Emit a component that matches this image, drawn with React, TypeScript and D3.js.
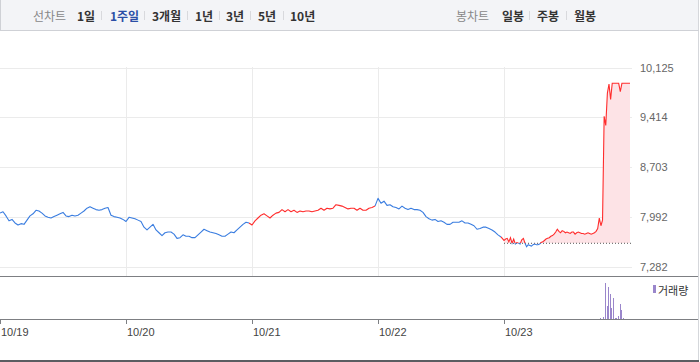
import React from "react";
import * as d3 from "d3";

// ---- data ----
const dates = ["10/19", "10/20", "10/21", "10/22", "10/23"];
const yTickValues = [10125, 9414, 8703, 7992, 7282];
const yTickLabels = ["10,125", "9,414", "8,703", "7,992", "7,282"];
const closeBefore = 8050; // close of the session before 10/19
const prevClose = 7620; // reference price of the last session

const day1 = [8050, 8070, 8010, 7940, 7960, 7910, 7880, 7900, 7890, 7950, 8010, 8040, 8090, 8080,
  8050, 8010, 7990, 7980, 8000, 8020, 8040, 8060, 8010, 8000, 8020, 8010, 8020, 8050,
  8080, 8120, 8140, 8120, 8100, 8090, 8100, 8120, 8130, 8020, 8000, 7990, 7980, 7960];
const day2 = [7930, 7990, 7980, 7970, 7950, 7930, 7850, 7810, 7850, 7890, 7810, 7770, 7730, 7770,
  7780, 7780, 7750, 7690, 7700, 7740, 7720, 7720, 7700, 7700, 7740, 7780, 7820, 7800,
  7780, 7770, 7760, 7740, 7720, 7720, 7750, 7780, 7770, 7810, 7850, 7890, 7920, 7910];
const day3 = [7880, 7940, 7980, 8020, 8040, 8010, 7980, 8020, 8050, 8060, 8100, 8070, 8100, 8070,
  8090, 8060, 8080, 8070, 8080, 8080, 8070, 8080, 8090, 8120, 8090, 8120, 8110, 8120,
  8170, 8160, 8150, 8130, 8110, 8120, 8120, 8090, 8120, 8090, 8090, 8120, 8130, 8150];
const day4 = [8260, 8190, 8220, 8160, 8170, 8140, 8130, 8110, 8150, 8120, 8100, 8120, 8100, 8100,
  8090, 8060, 8000, 7970, 7950, 7960, 7930, 7940, 7920, 7890, 7890, 7920, 7920, 7920,
  7940, 7910, 7910, 7890, 7870, 7820, 7830, 7850, 7850, 7830, 7810, 7780, 7740, 7710];
const day5 = [7660, 7680, 7690, 7640, 7700, 7620, 7680, 7610, 7630, 7620, 7610, 7670, 7690, 7620,
  7570, 7600, 7590, 7580, 7600, 7610, 7600, 7600, 7610, 7630, 7640, 7660, 7680, 7690,
  7700, 7720, 7730, 7750, 7780, 7820, 7790, 7770, 7800, 7790, 7770, 7780, 7770, 7760,
  7780, 7780, 7750, 7770, 7780, 7770, 7760, 7760, 7750, 7760, 7770, 7760, 7750, 7760,
  7770, 7790, 7830, 7980, 7870, 7950, 9430, 9300, 9760, 9890, 9670, 9900, 9900, 9900,
  9900, 9900, 9780, 9900, 9900, 9900, 9900, 9900, 9900];

// volume of the last session: minutes after the open, volume (thousand shares)
const volMinutes = [297, 306, 314, 319, 322, 328, 331, 337, 344, 347, 353, 359, 362, 368];
const volValues = [30, 60, 1150, 420, 1020, 790, 350, 670, 30, 30, 100, 470, 280, 30];
const volLegend = "거래량";

const lineLabel = "선차트";
const lineTypes = ["1일", "1주일", "3개월", "1년", "3년", "5년", "10년"];
const candleLabel = "봉차트";
const candleTypes = ["일봉", "주봉", "월봉"];

const RED = "#ff2d2d";
const BLUE = "#3a7de0";

export default function App() {
  const W = 700, H = 362;
  const plotRight = 632;
  const x = d3.scaleLinear().domain([0, 5]).range([0, 630]);
  const y = d3.scaleLinear().domain([7282, 10125]).range([267, 67.5]);
  const vy = d3.scaleLinear().domain([0, 1330]).range([319, 277]);

  const line = d3.line<[number, number]>().x(d => x(d[0])).y(d => y(d[1]));
  const days = [day1, day2, day3, day4];
  const dayPaths = days.map((arr, d) => {
    const pts: [number, number][] = arr.map((v, j) => [d + j / arr.length, v]);
    if (d > 0) {
      const p = days[d - 1];
      pts.unshift([d - 1 / p.length, p[p.length - 1]]);
    }
    const prev = d === 0 ? closeBefore : days[d - 1][days[d - 1].length - 1];
    const close = arr[arr.length - 1];
    return { path: line(pts) || "", color: close > prev ? RED : BLUE };
  });
  const pts5: [number, number][] = day5.map((v, i) => [4 + i / 78, v]);
  const linePts5: [number, number][] = [[4 - 1 / day4.length, day4[day4.length - 1]], ...pts5];
  const path5 = line(linePts5) || "";
  const area5 = d3.area<[number, number]>().x(d => x(d[0])).y0(y(prevClose)).y1(d => y(d[1]))(pts5) || "";
  const yBase = y(prevClose);

  const lineXs = [77, 110, 152, 195, 226, 258, 290];
  const lineSeps = [101, 144, 187, 219, 250, 283];
  const candleXs = [502, 537, 574];
  const candleSeps = [529, 566];
  const kfont = "'Noto Sans CJK KR', 'Noto Sans', sans-serif";
  const nfont = "'Liberation Sans', Arial, sans-serif";

  return (
    <svg width={W} height={H} style={{ position: "fixed", left: 0, top: 0, background: "#fff" }}>
      <defs>
        <clipPath id="above"><rect x={0} y={0} width={W} height={yBase} /></clipPath>
        <clipPath id="below"><rect x={0} y={yBase} width={W} height={H - yBase} /></clipPath>
      </defs>
      {/* toolbar */}
      <rect x={0} y={0} width={699} height={30} fill="#f3f4f7" />
      <line x1={0.5} y1={0} x2={0.5} y2={30} stroke="#cfd1d6" />
      <line x1={698.5} y1={0} x2={698.5} y2={H} stroke="#d5d7db" />
      <line x1={0} y1={30.5} x2={699} y2={30.5} stroke="#cfd1d6" />
      <g fontFamily={kfont} fontSize={12} dominantBaseline="central">
        <text x={33} y={15.5} fill="#888">{lineLabel}</text>
        {lineTypes.map((t, i) => (
          <text key={t} x={lineXs[i]} y={15.5} fontWeight="bold" fill={i === 1 ? "#2b4ea6" : "#333"}>{t}</text>
        ))}
        {lineSeps.map(s => <line key={s} x1={s + 0.5} x2={s + 0.5} y1={11} y2={20} stroke="#d8d9dd" />)}
        <text x={456} y={15.5} fill="#888">{candleLabel}</text>
        {candleTypes.map((t, i) => (
          <text key={t} x={candleXs[i]} y={15.5} fontWeight="bold" fill="#333">{t}</text>
        ))}
        {candleSeps.map(s => <line key={s} x1={s + 0.5} x2={s + 0.5} y1={11} y2={20} stroke="#d8d9dd" />)}
      </g>

      {/* grid */}
      <g shapeRendering="crispEdges">
        {yTickValues.map(v => (
          <line key={v} x1={0} x2={plotRight} y1={Math.round(y(v)) + 0.5} y2={Math.round(y(v)) + 0.5} stroke="#ebebeb" />
        ))}
        {[1, 2, 3, 4].map(d => (
          <line key={d} x1={Math.round(x(d)) + 0.5} x2={Math.round(x(d)) + 0.5} y1={67} y2={276} stroke="#ebebeb" />
        ))}
      </g>
      <g fontFamily={nfont} fontSize={11} fill="#666" dominantBaseline="central">
        {yTickValues.map((v, i) => (
          <text key={v} x={640} y={y(v)}>{yTickLabels[i]}</text>
        ))}
      </g>

      {/* price */}
      <path d={area5} fill="#fde3e6" clipPath="url(#above)" />
      <line x1={x(4)} x2={plotRight} y1={yBase} y2={yBase} stroke="#555" strokeWidth={1} strokeDasharray="1,2" />
      {dayPaths.map((p, i) => (
        <path key={i} d={p.path} fill="none" stroke={p.color} strokeWidth={1.1} strokeLinejoin="round" />
      ))}
      <path d={path5} fill="none" stroke={RED} strokeWidth={1.1} clipPath="url(#above)" />
      <path d={path5} fill="none" stroke={BLUE} strokeWidth={1.1} clipPath="url(#below)" />

      {/* panel borders */}
      <g shapeRendering="crispEdges">
        <line x1={0} x2={698} y1={276.5} y2={276.5} stroke="#7d7f83" />
        <line x1={0} x2={698} y1={319.5} y2={319.5} stroke="#7d7f83" />
        <rect x={0} y={360} width={699} height={2} fill="#5b5d61" />
      </g>

      {/* volume */}
      <g shapeRendering="crispEdges">
        {volMinutes.map((m, i) => (
          <rect key={m} x={Math.round(x(4 + m / 390))} y={vy(volValues[i])} width={1} height={319 - vy(volValues[i])} fill="#9a86cb" />
        ))}
        <rect x={653} y={285} width={3} height={8} fill="#9a86cb" />
      </g>
      <text x={658} y={289.5} fontFamily={kfont} fontSize={11} fill="#333" dominantBaseline="central">{volLegend}</text>

      {/* x axis */}
      <g shapeRendering="crispEdges">
        {dates.map((d, i) => (
          <line key={d} x1={Math.round(x(i)) + 0.5} x2={Math.round(x(i)) + 0.5} y1={319} y2={324} stroke="#7d7f83" />
        ))}
      </g>
      <g fontFamily={nfont} fontSize={11} fill="#444" dominantBaseline="central">
        {dates.map((d, i) => (
          <text key={d} x={x(i) + 1} y={332}>{d}</text>
        ))}
      </g>
    </svg>
  );
}
